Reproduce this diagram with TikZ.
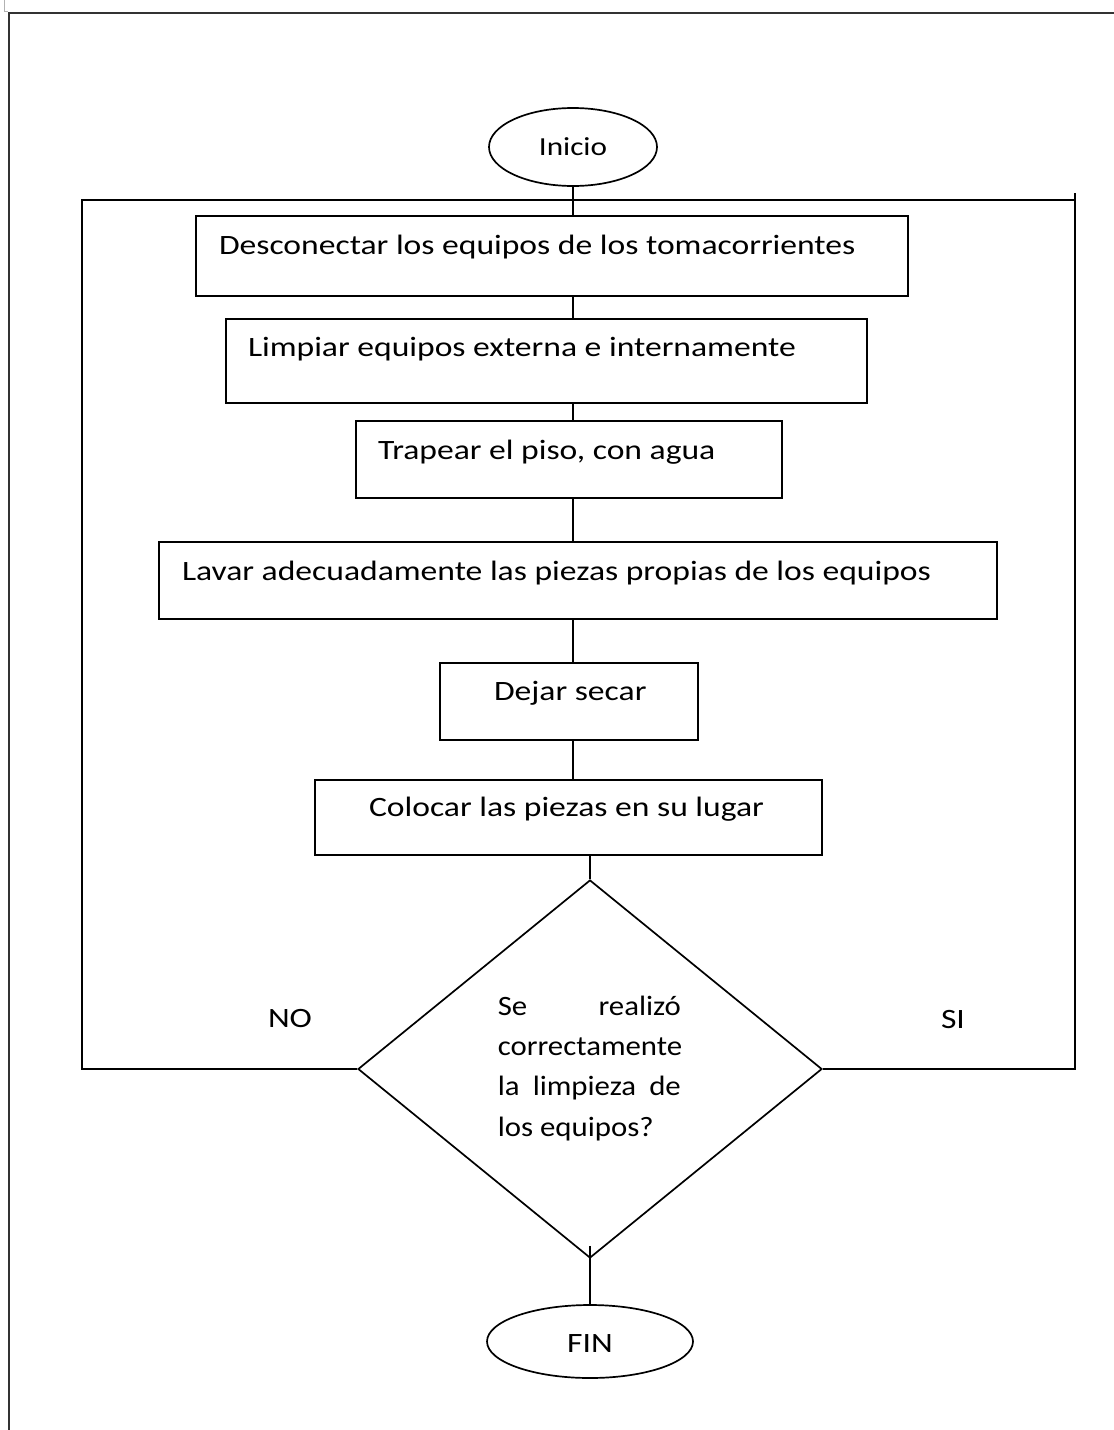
\documentclass[tikz,border=0pt]{standalone}
\usepackage{fontspec}
\setmainfont{Carlito}
\newfontfamily\wide[FakeStretch=1.2]{Carlito}
\newfontfamily\semiwide[FakeStretch=1.1]{Carlito}
\usetikzlibrary{shapes.geometric,calc}

\begin{document}
\begin{tikzpicture}[x=1pt,y=-1pt,
  line width=1.7pt,
  stepbox/.style={draw, rectangle, inner sep=0pt},
  term/.style={draw, ellipse, inner sep=0pt},
  txt/.style={anchor=base west, inner sep=0pt, font=\wide\fontsize{28}{34}\selectfont},
  lbl/.style={anchor=base, inner sep=0pt, font=\wide\fontsize{28}{34}\selectfont},
  link/.style={draw, line width=1.7pt}
]
\useasboundingbox (0,0) rectangle (1114,1430);

% page frame
\draw[line width=2.2pt, black!80] (9,1430) -- (9,13) -- (1114,13);
\draw[line width=0.8pt, black!30] (4,0) -- (4,11) -- (8,11);

% terminals
\node[term, minimum width=168, minimum height=78] (ini) at (573,147) {};
\node[lbl, font=\wide\fontsize{26}{30}\selectfont] at ($(ini.center)+(0,8)$) {Inicio};
\node[term, minimum width=206, minimum height=73] (fin) at (590,1341.5) {};
\node[lbl] at ($(fin.center)+(0,11)$) {FIN};

% process steps
\node[stepbox, minimum width=712, minimum height=80] (b1) at (552,256) {};
\node[stepbox, minimum width=641, minimum height=84] (b2) at (546.5,361) {};
\node[stepbox, minimum width=426, minimum height=77] (b3) at (569,459.5) {};
\node[stepbox, minimum width=838, minimum height=77] (b4) at (578,580.5) {};
\node[stepbox, minimum width=258, minimum height=77] (b5) at (569,701.5) {};
\node[stepbox, minimum width=507, minimum height=75] (b6) at (568.5,817.5) {};

\node[txt] (t1) at ($(b1.north west)+(23,39)$) {Desconectar los equipos de los tomacorrientes};
\node[txt] (t2) at ($(b2.north west)+(22,38)$) {Limpiar equipos externa e internamente};
\node[txt] (t3) at ($(b3.north west)+(22,39)$) {Trapear el piso, con agua};
\node[txt] (t4) at ($(b4.north west)+(23,39)$) {Lavar adecuadamente las piezas propias de los equipos};
\node[txt] (t5) at ($(b5.north west)+(54,38)$) {Dejar secar};
\node[txt] (t6) at ($(b6.north west)+(54,37)$) {Colocar las piezas en su lugar};

% decision
\node[draw, diamond, inner sep=0pt, minimum width=464, minimum height=378] (dec) at (590,1069) {};
\node[anchor=north west, inner sep=0pt, font=\semiwide\fontsize{28}{40.3}\selectfont] (q) at (497,995)
  {\parbox{183pt}{\raggedright
   \makebox[183pt][s]{Se realizó}\\
   \makebox[183pt][s]{correctamente}\\
   \makebox[183pt][s]{la limpieza de}\\
   los equipos?}};

\node[lbl] (no) at (290,1027) {NO};
\node[lbl] (si) at (953,1028) {SI};

% flow connectors
\draw[link] (ini.south) -- (ini.south |- b1.north);
\draw[link] (b1.south -| ini.south) -- (b2.north -| ini.south);
\draw[link] (b2.south -| ini.south) -- (b3.north -| ini.south);
\draw[link] (b3.south -| ini.south) -- (b4.north -| ini.south);
\draw[link] (b4.south -| ini.south) -- (b5.north -| ini.south);
\draw[link] (b5.south -| ini.south) -- (b6.north -| ini.south);
\draw[link] (b6.south -| dec.north) -- (dec.north);
\draw[link] ($(dec.south)+(0,-13)$) -- (fin.north);

% loop back on NO, exit on SI
\coordinate (lb) at (82,1069);
\coordinate (lt) at (82,200);
\coordinate (rt) at (1075,200);
\coordinate (rb) at (1075,1069);
\coordinate (rtop) at (1075,193);
\draw[link] (dec.west) -- (lb) -- (lt) -- (rt);
\draw[link] (dec.east) -- (rb) -- (rtop);
\end{tikzpicture}
\end{document}
